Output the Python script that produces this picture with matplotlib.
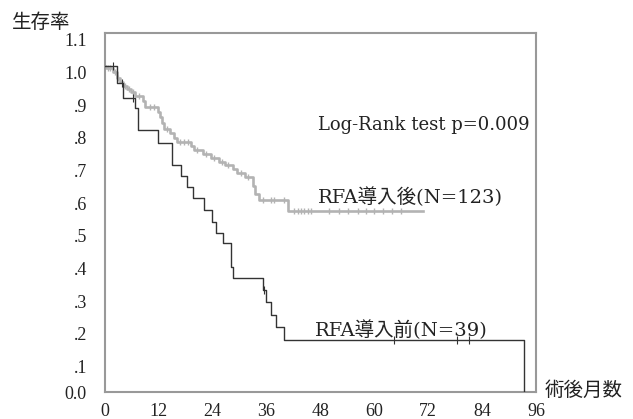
import matplotlib
matplotlib.use("Agg")
import matplotlib.pyplot as plt
import matplotlib.transforms as mtransforms
import numpy as np

# RFA導入前 (N=39): step times (months) and survival after each step
TIMES_PRE = [0, 2.7, 4.0, 6.7, 7.4, 11.9, 15.0, 17.0, 18.3, 19.7, 22.1, 23.9,
             24.8, 26.2, 28.0, 28.6, 35.1, 35.8, 36.9, 38.0, 39.8, 93.4]
SURV_PRE = [1.0, 0.948, 0.902, 0.871, 0.804, 0.764, 0.696, 0.663, 0.629, 0.595,
            0.558, 0.522, 0.488, 0.457, 0.384, 0.350, 0.313, 0.277, 0.236,
            0.200, 0.160, 0.0]
CENS_PRE = [1.8, 3.7, 6.3, 35.5, 64.4, 78.3, 81.0]

# RFA導入後 (N=123)
TIMES_POST = [0, 0.3, 1.8, 2.7, 3.4, 4.0, 4.9, 5.8, 6.7, 8.5, 8.9, 11.9, 12.3,
              12.8, 13.2, 14.5, 15.4, 16.1, 19.2, 19.9, 21.9, 23.5, 25.3, 26.8,
              28.6, 29.5, 31.1, 32.9, 33.3, 34.2, 40.7, 70.9]
SURV_POST = [1.0, 0.992, 0.979, 0.963, 0.951, 0.939, 0.929, 0.920, 0.908,
             0.893, 0.874, 0.859, 0.844, 0.825, 0.807, 0.794, 0.779, 0.767,
             0.755, 0.742, 0.730, 0.718, 0.706, 0.696, 0.684, 0.672, 0.660,
             0.632, 0.607, 0.589, 0.555, 0.555]
CENS_POST = [0.6, 1.2, 2.2, 3.0, 4.5, 5.3, 6.2, 7.5, 10.0, 11.0, 13.8, 16.8,
             17.6, 18.5, 20.5, 22.5, 24.2, 26.0, 27.5, 30.2, 31.8, 35.3, 36.9,
             37.6, 39.8, 42.1, 42.9, 43.6, 44.3, 45.2, 45.9, 49.9, 52.1, 54.1,
             56.4, 58.2, 59.9, 62.0, 64.0, 66.0]

X_TICKS = [0, 12, 24, 36, 48, 60, 72, 84, 96]
Y_TICKS = [0.0, 0.1, 0.2, 0.3, 0.4, 0.5, 0.6, 0.7, 0.8, 0.9, 1.0, 1.1]
Y_LABELS = ["0.0", ".1", ".2", ".3", ".4", ".5", ".6", ".7", ".8", ".9", "1.0", "1.1"]

TICK_FONT = ["Liberation Serif", "Noto Sans CJK JP"]
TEXT_FONT = ["DejaVu Serif", "Noto Sans CJK JP"]
INK = "#222222"
BLACK = "#333333"
GRAY = "#b3b3b3"


def step_value(times, surv, t):
    idx = np.searchsorted(times, t, side="right") - 1
    return surv[max(idx, 0)]


def main():
    fig = plt.figure(figsize=(6.33, 4.19), dpi=100)
    ax = fig.add_axes([105 / 633, 1 - 392 / 419, 431 / 633, 359 / 419])

    ax.step(TIMES_POST, SURV_POST, where="post", color=GRAY, lw=1.9, zorder=2)
    ax.step(TIMES_PRE, SURV_PRE, where="post", color=BLACK, lw=1.0, zorder=3)

    cy_post = [step_value(TIMES_POST, SURV_POST, t) for t in CENS_POST]
    cy_pre = [step_value(TIMES_PRE, SURV_PRE, t) for t in CENS_PRE]
    ax.plot(CENS_POST, cy_post, ls="none", marker="|", ms=5, mew=1.0,
            color=GRAY, zorder=2)
    ax.plot(CENS_PRE, cy_pre, ls="none", marker="|", ms=6, mew=0.8,
            color=BLACK, zorder=3)

    ax.set_xlim(0, 96)
    ax.set_ylim(0, 1.1)
    ax.set_xticks(X_TICKS)
    ax.set_xticklabels([str(v) for v in X_TICKS])
    ax.set_yticks(Y_TICKS)
    ax.set_yticklabels(Y_LABELS)
    ax.tick_params(length=0, labelsize=13, colors=INK)
    ax.tick_params(axis="x", pad=8)
    ax.tick_params(axis="y", pad=13)
    for lab in ax.get_xticklabels() + ax.get_yticklabels():
        lab.set_family(TICK_FONT)

    # labels above 0.0 sit a little lower in the original
    shift = mtransforms.ScaledTranslation(0, -7 / 100, fig.dpi_scale_trans)
    for lab in ax.get_yticklabels()[1:]:
        lab.set_transform(lab.get_transform() + shift)

    for sp in ax.spines.values():
        sp.set_color("#999999")
        sp.set_linewidth(1.5)

    ax.text(0.494, 0.744, "Log-Rank test p=0.009", transform=ax.transAxes,
            fontsize=13, family=TEXT_FONT, va="center", ha="left", color=INK)
    ax.text(0.494, 0.543, "RFA導入後(N=123)", transform=ax.transAxes,
            fontsize=14, family=TEXT_FONT, va="center", ha="left", color=INK)
    ax.text(0.487, 0.173, "RFA導入前(N=39)", transform=ax.transAxes,
            fontsize=14, family=TEXT_FONT, va="center", ha="left", color=INK)

    fig.text(12 / 633, 1 - 23 / 419, "生存率", fontsize=14, family=TEXT_FONT,
             va="center", ha="left", color=INK)
    fig.text(545 / 633, 1 - 391 / 419, "術後月数", fontsize=14, family=TEXT_FONT,
             va="center", ha="left", color=INK)

    fig.savefig("out.png", dpi=100)


if __name__ == "__main__":
    main()
